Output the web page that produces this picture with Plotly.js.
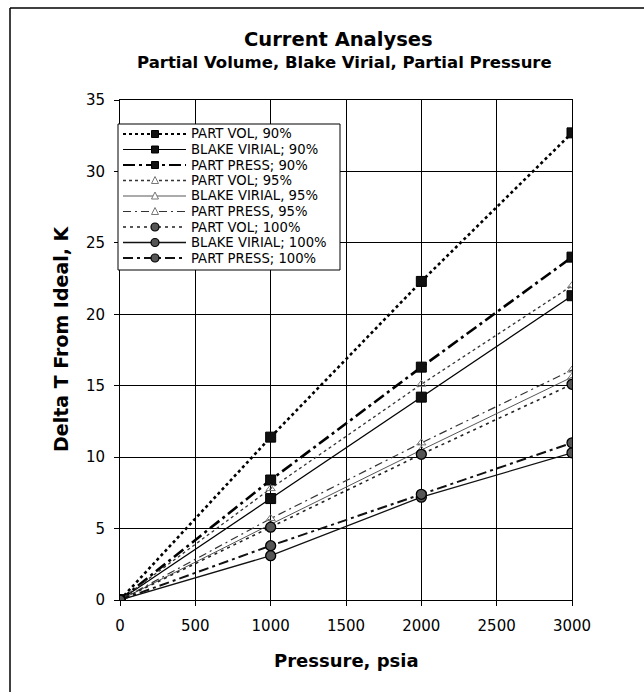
<!DOCTYPE html>
<html>
<head>
<meta charset="utf-8">
<script src="https://cdn.plot.ly/plotly-3.0.1.min.js"></script>
<style>html,body{margin:0;padding:0;background:#fff;}</style>
</head>
<body>
<div id="chart" style="width:644px;height:692px;"></div>
<script>
const pressure = [0, 1000, 2000, 3000];
const xTicks = [0, 500, 1000, 1500, 2000, 2500, 3000];
const yTicks = [0, 5, 10, 15, 20, 25, 30, 35];
const partVol90 = [0, 11.4, 22.3, 32.7];
const blake90 = [0, 7.1, 14.2, 21.3];
const partPress90 = [0, 8.4, 16.3, 24.0];
const partVol95 = [0, 7.8, 15.1, 22.0];
const blake95 = [0, 5.3, 10.5, 15.6];
const partPress95 = [0, 5.7, 11.0, 16.1];
const partVol100 = [0, 5.1, 10.2, 15.1];
const blake100 = [0, 3.1, 7.2, 10.3];
const partPress100 = [0, 3.8, 7.4, 11.0];
const seriesNames = ["PART VOL, 90%", "BLAKE VIRIAL; 90%", "PART PRESS; 90%",
  "PART VOL; 95%", "BLAKE VIRIAL, 95%", "PART PRESS, 95%",
  "PART VOL; 100%", "BLAKE VIRIAL; 100%", "PART PRESS; 100%"];
const seriesValues = [partVol90, blake90, partPress90, partVol95, blake95, partPress95, partVol100, blake100, partPress100];

const sq = {symbol:'square', size:10, color:'#111', line:{color:'#000', width:1}};
const tri = {symbol:'triangle-up-open', size:8, color:'#777', line:{width:1}};
const circ = {symbol:'circle', size:10, color:'#555', line:{color:'#000', width:1.3}};
const styles = [
  {line:{color:'#000', width:2.6, dash:'dot'}, marker:sq, kind:'sq'},
  {line:{color:'#000', width:1.2, dash:'solid'}, marker:sq, kind:'sq'},
  {line:{color:'#000', width:2.6, dash:'12px,4px,3px,4px'}, marker:sq, kind:'sq'},
  {line:{color:'#333', width:1.3, dash:'dot'}, marker:tri, kind:'tri'},
  {line:{color:'#444', width:0.9, dash:'solid'}, marker:tri, kind:'tri'},
  {line:{color:'#333', width:1.2, dash:'8px,4px,2px,4px'}, marker:tri, kind:'tri'},
  {line:{color:'#222', width:1.6, dash:'3px,4px'}, marker:circ, kind:'circ'},
  {line:{color:'#111', width:1.3, dash:'solid'}, marker:circ, kind:'circ'},
  {line:{color:'#111', width:2, dash:'10px,4px,3px,4px'}, marker:circ, kind:'circ'}
];

const traces = seriesNames.map((name, i) => ({
  x: pressure, y: seriesValues[i], name: name, type: 'scatter', mode: 'lines+markers',
  line: styles[i].line, marker: styles[i].marker, showlegend: false
}));

// pixel -> paper helpers (plot area 120..572 x, 100..600 y)
const PL = 120, PW = 452, PT = 100, PH = 500;
const px = v => (v - PL) / PW;
const py = v => (PT + PH - v) / PH;

const FONT = 'DejaVu Sans, Liberation Sans, Arial, sans-serif';
const shapes = [
  {type: 'line', xref: 'paper', yref: 'paper', x0: px(10), x1: px(10), y0: py(8), y1: py(700), line: {color: '#000', width: 1.5}},
  {type: 'line', xref: 'paper', yref: 'paper', x0: px(10), x1: px(650), y0: py(8), y1: py(8), line: {color: '#000', width: 1.5}},
  // legend box
  {type: 'rect', xref: 'paper', yref: 'paper', x0: px(118), x1: px(340), y0: py(124), y1: py(270), fillcolor: '#fff', line: {color: '#000', width: 1}, layer: 'above'}
];
const annotations = [
  {text: '<b>Current Analyses</b>', xref: 'paper', yref: 'paper', x: px(338), y: py(40), xanchor: 'center', yanchor: 'middle', showarrow: false, font: {family: FONT, size: 19.5, color: '#000'}},
  {text: '<b>Partial Volume, Blake Virial, Partial Pressure</b>', xref: 'paper', yref: 'paper', x: px(344), y: py(63), xanchor: 'center', yanchor: 'middle', showarrow: false, font: {family: FONT, size: 16.5, color: '#000'}},
  {text: '<b>Pressure, psia</b>', xref: 'paper', yref: 'paper', x: px(346), y: py(660), xanchor: 'center', yanchor: 'middle', showarrow: false, font: {family: FONT, size: 18, color: '#000'}},
  {text: '<b>Delta T From Ideal, K</b>', xref: 'paper', yref: 'paper', x: px(61), y: py(338), xanchor: 'center', yanchor: 'middle', textangle: -90, showarrow: false, font: {family: FONT, size: 19, color: '#000'}}
];

// custom legend rows
seriesNames.forEach((name, i) => {
  const yy = 134 + 15.5 * i;
  const st = styles[i];
  shapes.push({type: 'line', xref: 'paper', yref: 'paper', x0: px(123), x1: px(186), y0: py(yy), y1: py(yy),
    line: {color: st.line.color, width: Math.min(st.line.width, 2.2), dash: st.line.dash}, layer: 'above'});
  const mx = 155;
  if (st.kind === 'sq') {
    shapes.push({type: 'rect', xref: 'paper', yref: 'paper', x0: px(mx - 3.5), x1: px(mx + 3.5), y0: py(yy - 3.5), y1: py(yy + 3.5),
      fillcolor: '#111', line: {color: '#000', width: 1}, layer: 'above'});
  } else if (st.kind === 'tri') {
    shapes.push({type: 'path', xref: 'paper', yref: 'paper',
      path: `M ${px(mx - 3.5)} ${py(yy + 3)} L ${px(mx + 3.5)} ${py(yy + 3)} L ${px(mx)} ${py(yy - 4)} Z`,
      fillcolor: '#fff', line: {color: '#777', width: 1}, layer: 'above'});
  } else {
    shapes.push({type: 'circle', xref: 'paper', yref: 'paper', x0: px(mx - 4), x1: px(mx + 4), y0: py(yy - 4), y1: py(yy + 4),
      fillcolor: '#555', line: {color: '#000', width: 1.2}, layer: 'above'});
  }
  annotations.push({text: name, xref: 'paper', yref: 'paper', x: px(189), y: py(yy), xanchor: 'left', yanchor: 'middle',
    showarrow: false, font: {family: FONT, size: 13.2, color: '#000'}});
});

const tickFont = {family: FONT, size: 15, color: '#000'};
const layout = {
  width: 644, height: 692,
  margin: {l: 120, r: 72, t: 100, b: 92},
  paper_bgcolor: '#fff', plot_bgcolor: '#fff',
  font: tickFont,
  showlegend: false,
  xaxis: {
    range: [0, 3000], tickvals: xTicks, ticktext: xTicks.map(String),
    ticks: 'outside', ticklen: 5, tickcolor: '#000', ticklabelstandoff: 7,
    showgrid: true, gridcolor: '#000', gridwidth: 1,
    showline: true, linecolor: '#000', linewidth: 1, mirror: true,
    zeroline: false, tickfont: tickFont
  },
  yaxis: {
    range: [0, 35], tickvals: yTicks, ticktext: yTicks.map(String),
    ticks: 'outside', ticklen: 5, tickcolor: '#000', ticklabelstandoff: 6,
    showgrid: true, gridcolor: '#000', gridwidth: 1,
    showline: true, linecolor: '#000', linewidth: 1, mirror: true,
    zeroline: false, tickfont: tickFont
  },
  shapes: shapes,
  annotations: annotations
};

Plotly.newPlot('chart', traces, layout, {displayModeBar: false, staticPlot: true});
</script>
</body>
</html>
